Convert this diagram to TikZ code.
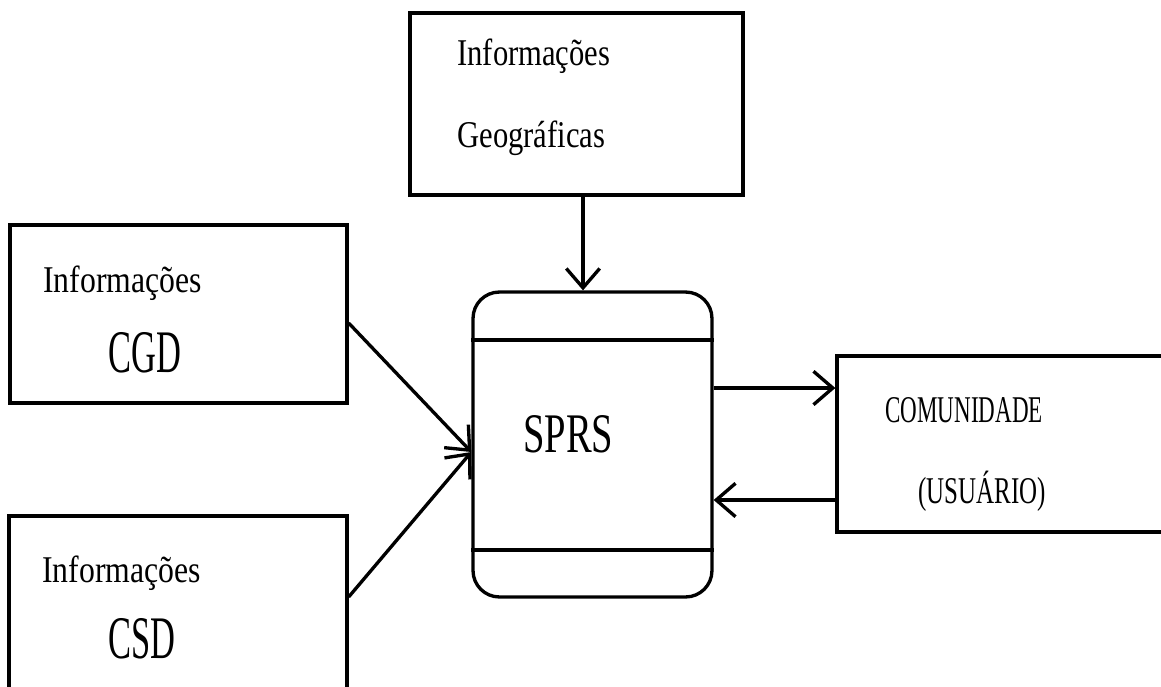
\documentclass[tikz,border=0pt]{standalone}
\usepackage{fontspec}
\setmainfont{Liberation Serif}
\usepackage{graphicx}
\usetikzlibrary{arrows.meta,calc}
\newcommand{\sqz}[2]{\scalebox{#1}[1]{#2}}
\begin{document}
\begin{tikzpicture}[x=0.02cm,y=-0.02cm,
  box/.style={draw,line width=1.9pt,inner sep=0pt,rectangle},
  lbl/.style={anchor=base west,inner sep=0pt,font=\fontsize{21.5}{24}\selectfont},
  big/.style={anchor=base west,inner sep=0pt,font=\fontsize{34.4}{38}\selectfont},
  arr/.style={line width=1.9pt,-{Straight Barb[length=11pt,width=19pt]}}]
\useasboundingbox (0,0) rectangle (1161,687);
\clip (0,0) rectangle (1161,687);
% boxes
\node[box,minimum width=6.66cm,minimum height=3.64cm] (geo) at (576.5,104) {};
\node[box,minimum width=6.74cm,minimum height=3.56cm] (cgd) at (178.5,314) {};
\node[box,minimum width=6.76cm,minimum height=4.88cm] (csd) at (178,638) {};
\node[box,rounded corners=15pt,minimum width=4.78cm,minimum height=6.1cm] (sprs) at (592.5,444.5) {};
\node[box,minimum width=7.66cm,minimum height=3.52cm] (com) at (1028.5,444) {};
% inner lines of SPRS
\coordinate (l1) at (0,340);
\coordinate (l2) at (0,550);
\draw[line width=1.9pt] (sprs.west |- l1) -- (sprs.east |- l1);
\draw[line width=1.9pt] (sprs.west |- l2) -- (sprs.east |- l2);
% labels
\node[lbl] (g1) at (457,65) {\sqz{0.81}{Informações}};
\node[lbl] (g2) at (457,147) {\sqz{0.81}{Geográficas}};
\node[lbl] (c1) at (43,292) {\sqz{0.84}{Informações}};
\node[big] (c2) at (108,372) {\sqz{0.57}{CGD}};
\node[lbl] (s1) at (42,582) {\sqz{0.84}{Informações}};
\node[big] (s2) at (108,658) {\sqz{0.57}{CSD}};
\node[anchor=base west,inner sep=0pt,font=\fontsize{31.8}{35}\selectfont] (sp) at (523,452) {\sqz{0.69}{SPRS}};
\node[lbl] (m1) at (885,422) {\sqz{0.61}{COMUNIDADE}};
\node[lbl] (m2) at (918,503) {\sqz{0.66}{(USUÁRIO)}};
% connectors
\coordinate (gx) at (583,0);
\coordinate (r1) at (0,388);
\coordinate (r2) at (0,500);
\draw[arr] (geo.south -| gx) -- (sprs.north -| gx);
\draw[arr] ($(cgd.east)+(0,9)$) -- ($(sprs.west)+(0,7.5)$);
\draw[arr] ($(csd.east)+(0,-41)$) -- ($(sprs.west)+(0,7.5)$);
\draw[arr] (sprs.east |- r1) -- (com.west |- r1);
\draw[arr] (com.west |- r2) -- (sprs.east |- r2);
\end{tikzpicture}
\end{document}
